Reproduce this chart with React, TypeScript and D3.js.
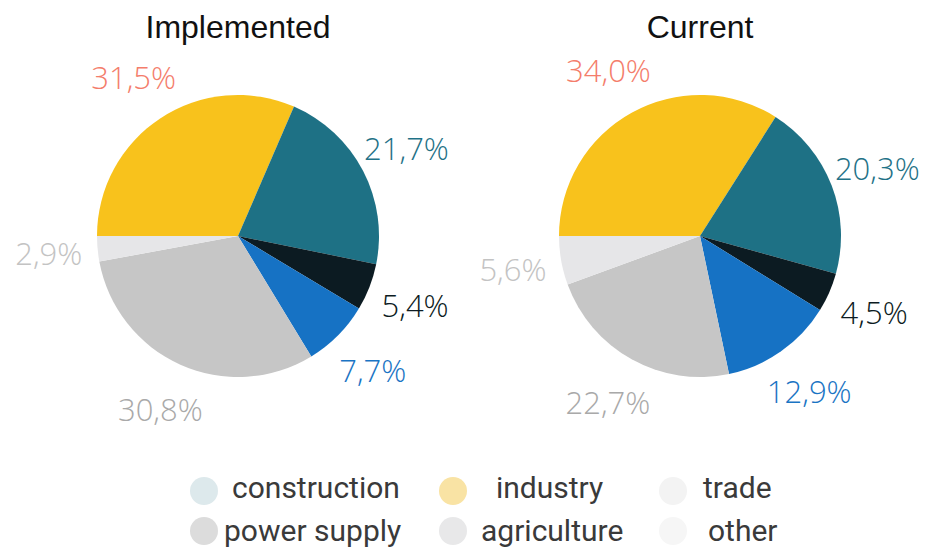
import React from "react";
import * as d3 from "d3";

const sliceKeys = ["industry", "construction", "trade", "power supply", "agriculture", "other"];
const sliceColors = ["#f8c21c", "#1e7185", "#0c1b22", "#1672c4", "#c6c6c6", "#e6e6e8"];
const labelColors = ["#f47d6b", "#1f7287", "#0c1b22", "#1a74c4", "#a9a9a9", "#c3c3c3"];

const implementedValues = [31.5, 21.7, 5.4, 7.7, 30.8, 2.9];
const currentValues = [34.0, 20.3, 4.5, 12.9, 22.7, 5.6];

const pieTitles = ["Implemented", "Current"];

const legendNames = ["construction", "industry", "trade", "power supply", "agriculture", "other"];
const legendColors = ["#dde9ec", "#f9e3a4", "#f3f3f3", "#dcdcdc", "#e8e8e9", "#f6f6f6"];

const W = 928;
const H = 549;
const R = 141;
const LABEL_R = 190;

const fmt = (v: number) => d3.format(".1f")(v).replace(".", ",") + "%";

function Pie({ values, cx, cy, title }: { values: number[]; cx: number; cy: number; title: string }) {
  const pie = d3
    .pie<number>()
    .sort(null)
    .value((d) => d)
    .startAngle(-Math.PI / 2)
    .endAngle((3 * Math.PI) / 2);
  const arcs = pie(values);
  const arc = d3.arc<d3.PieArcDatum<number>>().innerRadius(0).outerRadius(R);
  const labelArc = d3.arc<d3.PieArcDatum<number>>().innerRadius(LABEL_R).outerRadius(LABEL_R);
  return (
    <g transform={`translate(${cx},${cy})`}>
      <text
        x={0}
        y={-198}
        textAnchor="middle"
        fontFamily="Liberation Sans, Arial, sans-serif"
        fontSize={32}
        fill="#111"
      >
        {title}
      </text>
      {arcs.map((a, i) => (
        <path key={sliceKeys[i]} d={arc(a) || ""} fill={sliceColors[i]} />
      ))}
      {arcs.map((a, i) => {
        const [x, y] = labelArc.centroid(a);
        return (
          <text
            key={"l" + i}
            x={x}
            y={y}
            textAnchor="middle"
            dominantBaseline="central"
            fontFamily="Open Sans, sans-serif"
            fontWeight={300}
            fontSize={31}
            fill={labelColors[i]}
          >
            {fmt(values[i])}
          </text>
        );
      })}
    </g>
  );
}

export default function App() {
  const legendX = d3.scaleOrdinal<number, number>().domain([0, 1, 2]).range([204, 453, 673]);
  const legendY = d3.scaleOrdinal<number, number>().domain([0, 1]).range([491, 531]);
  return (
    <svg
      width={W}
      height={H}
      style={{ position: "absolute", left: 0, top: 0, background: "#fff" }}
    >
      <rect width={W} height={H} fill="#fff" />
      <Pie values={implementedValues} cx={238} cy={236} title={pieTitles[0]} />
      <Pie values={currentValues} cx={700} cy={236} title={pieTitles[1]} />
      {legendNames.map((name, i) => {
        const col = i % 3;
        const row = Math.floor(i / 3);
        const x = legendX(col);
        const y = legendY(row);
        const textGap = [28, 43, 30][col] - (row === 1 ? [8, 15, -5][col] : 0);
        return (
          <g key={name}>
            <circle cx={x} cy={y} r={14} fill={legendColors[i]} />
            <text
              x={x + textGap}
              y={y - 4 + row * 3}
              dominantBaseline="central"
              fontFamily="Roboto, sans-serif"
              fontSize={30}
              fill="#3a3a3a"
            >
              {name}
            </text>
          </g>
        );
      })}
    </svg>
  );
}
